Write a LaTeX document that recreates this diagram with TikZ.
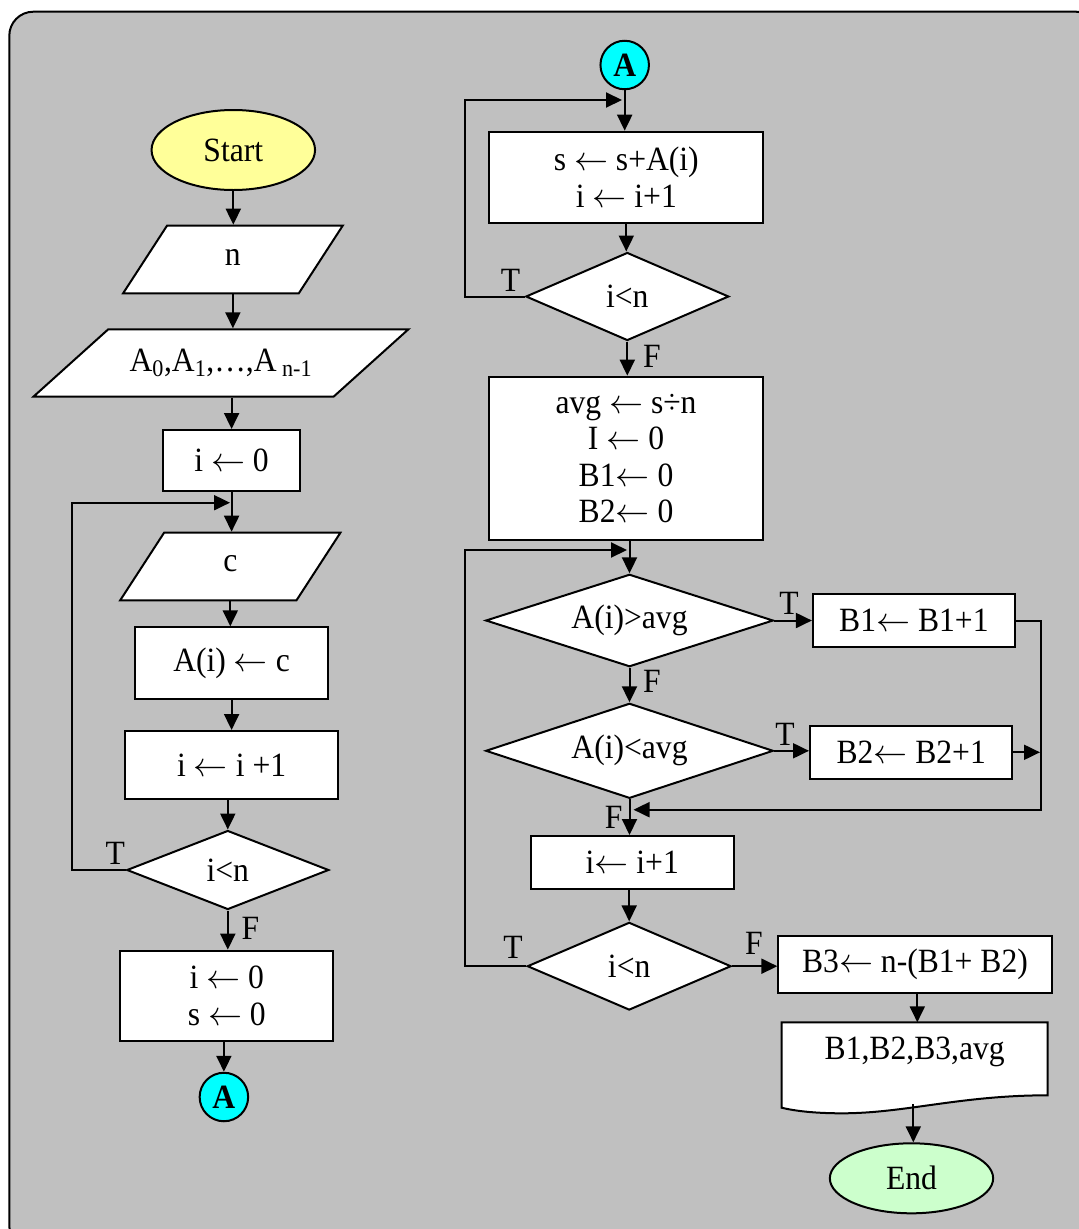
\RequirePackage{fix-cm}
\documentclass[tikz,border=0pt]{standalone}
\usepackage{fontspec}
\setmainfont{Liberation Serif}[FakeStretch=0.93]
\usepackage{xcolor}
\usepackage{tikz}
\usetikzlibrary{shapes.geometric,arrows.meta}

\definecolor{panel}{HTML}{C0C0C0}
\definecolor{startfill}{HTML}{FFFF99}
\definecolor{endfill}{HTML}{CCFFCC}
\definecolor{connfill}{HTML}{00FFFF}

\newcommand{\asg}{$\leftarrow$}

\tikzset{
  wire/.style={line width=2pt},
  arr/.style={wire,-{Triangle[length=16pt,width=15pt]}},
  proc/.style={rectangle,draw,wire,fill=white,inner sep=0pt,align=center},
  cond/.style={diamond,aspect=3,draw,wire,fill=white,inner sep=0pt},
  io/.style={trapezium,trapezium stretches body=true,draw,wire,fill=white,inner sep=0pt},
  term/.style={ellipse,draw,wire,inner sep=0pt},
  conn/.style={circle,draw,wire,fill=connfill,inner sep=0pt,minimum size=48.5pt,font=\fontsize{34}{38}\selectfont\bfseries},
  lbl/.style={inner sep=0pt}
}

\begin{document}
\begin{tikzpicture}[x=1pt,y=-1pt,font=\fontsize{34}{36.5}\selectfont]

  \useasboundingbox (0,0) rectangle (1079,1229);
  \fill[white] (0,0) rectangle (1079,1229);
  \filldraw[wire,fill=panel,rounded corners=24pt] (9.3,11.7) rectangle (1100,1250);

  % reading the values
  \node[term,fill=startfill,minimum width=163.5pt,minimum height=80pt] (start) at (233.3,150) {Start};
  \node[io,trapezium left angle=57,trapezium right angle=123,minimum width=219.6pt,text height=39.8pt,text depth=27.8pt] (inn) at (232.9,259.5) {n};
  \node[io,trapezium left angle=42,trapezium right angle=138,minimum width=375pt,text height=42.4pt,text depth=25pt] (inA) at (220.9,363) {A\textsubscript{0},A\textsubscript{1},…,A\textsubscript{ n-1}};
  \node[proc,minimum width=137pt,minimum height=61pt] (i0) at (231.6,460.5) {i \asg{} 0};
  \node[io,trapezium left angle=57,trapezium right angle=123,minimum width=220.2pt,text height=39pt,text depth=28.6pt] (inc) at (230.3,566.5) {c};
  \node[proc,minimum width=192.5pt,minimum height=72pt] (store) at (231.6,663.3) {A(i) \asg{} c};
  \node[proc,minimum width=213.5pt,minimum height=68pt] (inc1) at (231.7,765) {i \asg{} i +1};
  \node[cond,minimum width=202pt,minimum height=79pt] (test1) at (227.8,870) {i<n};
  \node[proc,minimum width=213pt,minimum height=90.7pt] (init) at (226.8,996) {i \asg{} 0\\s \asg{} 0};
  \node[conn] (A1) at (223.9,1097) {A};

  \draw[arr] (start.south) -- (start.south |- inn.north);
  \draw[arr] (inn.south) -- (inn.south |- inA.north);
  \draw[arr] (i0.north |- inA.south) -- (i0.north);
  \draw[arr] (i0.south) -- (i0.south |- inc.north);
  \draw[arr] (inc.south) -- (inc.south |- store.north);
  \draw[arr] (store.south) -- (store.south |- inc1.north);
  \draw[arr] (inc1.south -| test1.north) -- (test1.north);
  \draw[arr] (test1.south) -- (test1.south |- init.north);
  \draw[arr] (A1.north |- init.south) -- (A1.north);
  \coordinate (back1) at (230,502.7);
  \draw[arr] (test1.west) -| (72,502.7) -- (back1);
  \node[lbl] (t1) at (115.4,853.5) {T};
  \node[lbl] (f1) at (250.5,928.5) {F};

  % sum and counting
  \node[conn] (A2) at (624.7,65) {A};
  \node[proc,minimum width=274pt,minimum height=91pt] (acc) at (626.3,177.2) {s \asg{} s+A(i)\\i \asg{} i+1};
  \node[cond,minimum width=203pt,minimum height=88pt] (test2) at (627.3,296.5) {i<n};
  \node[proc,minimum width=274pt,minimum height=163.3pt] (mean) at (626,458.3) {avg \asg{} s÷n\\I \asg{} 0\\B1\asg{} 0\\B2\asg{} 0};
  \node[cond,minimum width=287.6pt,minimum height=92.4pt] (gt) at (629.5,620.5) {A(i)>avg};
  \node[proc,minimum width=202pt,minimum height=53.3pt] (b1) at (913.9,620.7) {B1\asg{} B1+1};
  \node[cond,minimum width=287.6pt,minimum height=95pt] (lt) at (629.5,750.8) {A(i)<avg};
  \node[proc,minimum width=202.4pt,minimum height=53.3pt] (b2) at (911.2,752.3) {B2\asg{} B2+1};
  \node[proc,minimum width=202.7pt,minimum height=53pt] (inc2) at (632.3,862.5) {i\asg{} i+1};
  \node[cond,minimum width=203.7pt,minimum height=87.7pt] (test3) at (629.2,966.2) {i<n};
  \node[proc,minimum width=273.3pt,minimum height=56.7pt] (b3) at (915,964.3) {B3\asg{} n-(B1+ B2)};
  \filldraw[wire,fill=white] (781.7,1022.3) -- (1047.7,1022.3) -- (1047.7,1095.3)
    .. controls (960,1095.3) and (905,1113.3) .. (842,1113.3)
    .. controls (815,1113.3) and (795,1111) .. (781.7,1107.7) -- cycle;
  \node (out) at (914.7,1052) {B1,B2,B3,avg};
  \node[term,fill=endfill,minimum width=163.3pt,minimum height=70pt] (stop) at (911.5,1178.3) {End};

  \draw[arr] (A2.south) -- (A2.south |- acc.north);
  \draw[arr] (acc.south) -- (acc.south |- test2.north);
  \draw[arr] (test2.south) -- (test2.south |- mean.north);
  \draw[arr] (mean.south -| gt.north) -- (gt.north);
  \draw[arr] (gt.east) -- (gt.east -| b1.west);
  \draw[arr] (gt.south) -- (gt.south |- lt.north);
  \draw[arr] (lt.east) -- (lt.east -| b2.west);
  \draw[arr] (lt.south) -- (lt.south |- inc2.north);
  \draw[arr] (test3.north |- inc2.south) -- (test3.north);
  \draw[arr] (test3.east) -- (test3.east -| b3.west);
  \coordinate (outtop) at (917.3,1022.3);
  \coordinate (outbot) at (913.3,1104);
  \draw[arr] (outtop |- b3.south) -- (outtop);
  \draw[arr] (outbot) -- (outbot |- stop.north);

  \coordinate (merge) at (633.5,809.7);
  \draw[arr] (b1.east) -- (1041.3,620.7) |- (merge);
  \draw[arr] (b2.east) -- (1040,752.3);
  \coordinate (back2) at (622,100);
  \draw[arr] (test2.west) -| (465,100) -- (back2);
  \coordinate (back3) at (627,550);
  \draw[arr] (test3.west) -| (465,550) -- (back3);

  \node[lbl] (t2) at (510.5,280) {T};
  \node[lbl] (f2) at (652,356) {F};
  \node[lbl] (t3) at (789,603) {T};
  \node[lbl] (f3) at (652,681.7) {F};
  \node[lbl] (t4) at (785,734) {T};
  \node[lbl] (f4) at (613.7,817.5) {F};
  \node[lbl] (t5) at (513,947.5) {T};
  \node[lbl] (f5) at (754,943) {F};

\end{tikzpicture}
\end{document}
